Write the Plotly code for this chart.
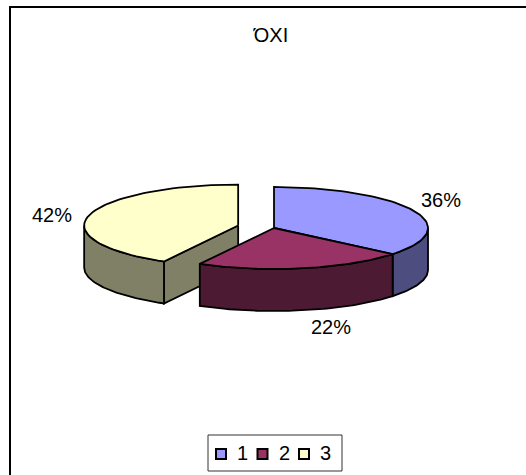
import math
import plotly.graph_objects as go

# ---- data ----
categories = ["1", "2", "3"]
values = [36, 22, 42]
labels_txt = ["36%", "22%", "42%"]
title_text = "ΌΧΙ"

# ---- style ----
top_colors = ["#9999FF", "#993366", "#FFFFCC"]
side_colors = ["#4D4D80", "#4D1A33", "#808066"]
explode = [0, 0, 37]

W, H = 526, 475
CX, CY = 274, 228     # pie centre (pixels)
RX, RY = 154, 41      # ellipse radii of top face
T = 42                # thickness
FONT = "Arial, Liberation Sans, sans-serif"
FS = 20

# legend layout
LEG_BOX = (208, 435, 342, 471)
LEG_X0, LEG_PITCH, LEG_Y = 221, 41.5, 454


def pt(cx, cy, a, dy=0):
    r = math.radians(a)
    return cx + RX * math.sin(r), cy - RY * math.cos(r) + dy


def arc(cx, cy, a0, a1, dy=0, n=60):
    pts = []
    for i in range(n + 1):
        a = a0 + (a1 - a0) * i / n
        pts.append(pt(cx, cy, a, dy))
    return pts


def poly_trace(pts, color):
    xs = [p[0] for p in pts] + [pts[0][0]]
    ys = [p[1] for p in pts] + [pts[0][1]]
    return go.Scatter(x=xs, y=ys, mode="lines", fill="toself", fillcolor=color,
                      line=dict(color="black", width=1.8), hoverinfo="skip",
                      showlegend=False)


total = sum(values)
angles = []
a = 0.0
for v in values:
    a1 = a + 360.0 * v / total
    angles.append((a, a1))
    a = a1

fig = go.Figure()

order = [2, 0, 1]   # back-left, back-right, front
centres = {}
for i in range(len(values)):
    a0, a1 = angles[i]
    m = math.radians((a0 + a1) / 2)
    d = explode[i]
    centres[i] = (CX + d * math.sin(m), CY - d * math.cos(m) * RY / RX)

for i in order:
    a0, a1 = angles[i]
    cx, cy = centres[i]
    if 180 < a0 < 360 and explode[i] > 0:
        p = pt(cx, cy, a0)
        quad = [(cx, cy), p, (p[0], p[1] + T), (cx, cy + T)]
        fig.add_trace(poly_trace(quad, side_colors[i]))
    s0, s1 = max(a0, 90), min(a1, 270)
    if s1 > s0:
        top = arc(cx, cy, s0, s1)
        bot = arc(cx, cy, s0, s1, dy=T)[::-1]
        fig.add_trace(poly_trace(top + bot, side_colors[i]))
    face = [(cx, cy)] + arc(cx, cy, a0, a1)
    fig.add_trace(poly_trace(face, top_colors[i]))

# data labels, anchored by the corner nearest to the slice
for i in range(len(values)):
    a0, a1 = angles[i]
    cx, cy = centres[i]
    mid = (a0 + a1) / 2
    r = math.radians(mid)
    s, c = math.sin(r), math.cos(r)
    px, py = pt(cx, cy, mid)
    if c < 0:
        py += T
    ya = "bottom" if c > 0.3 else ("top" if c < -0.3 else "middle")
    gap = 6 if ya != "middle" else 15
    if s > 0.1:
        xa = "left"
        px += gap
    elif s < -0.1:
        xa = "right"
        px -= gap
    else:
        xa = "center"
    if ya == "bottom":
        py += 2.5
    elif ya == "top":
        py += 4
    fig.add_annotation(x=px, y=py, text=labels_txt[i], showarrow=False,
                       xanchor=xa, yanchor=ya,
                       font=dict(family=FONT, size=FS, color="black"))

# legend (box, keys, texts)
fig.add_shape(type="rect", x0=LEG_BOX[0], y0=LEG_BOX[1], x1=LEG_BOX[2], y1=LEG_BOX[3],
              line=dict(color="#333333", width=1), fillcolor="white", layer="below")
leg_x = [LEG_X0 + k * LEG_PITCH for k in range(len(categories))]
fig.add_trace(go.Scatter(
    x=leg_x, y=[LEG_Y] * len(categories), mode="markers",
    marker=dict(symbol="square", size=10, color=top_colors,
                line=dict(color="black", width=2)),
    hoverinfo="skip", showlegend=False))
for k, c in enumerate(categories):
    fig.add_annotation(x=leg_x[k] + 14, y=LEG_Y - 1, text=c, showarrow=False,
                       xanchor="left", yanchor="middle",
                       font=dict(family=FONT, size=FS, color="black"))

# chart border (top and left edges visible in frame)
fig.add_shape(type="line", x0=10, y0=7, x1=W + 5, y1=7,
              line=dict(color="black", width=2))
fig.add_shape(type="line", x0=10, y0=6, x1=10, y1=H + 5,
              line=dict(color="black", width=2))

fig.update_layout(
    width=W, height=H,
    margin=dict(l=0, r=0, t=0, b=0),
    paper_bgcolor="white", plot_bgcolor="white",
    xaxis=dict(range=[0, W], visible=False, fixedrange=True),
    yaxis=dict(range=[H, 0], visible=False, fixedrange=True),
    title=dict(text=title_text, x=271 / W, xanchor="center",
               y=1 - 35 / H, yanchor="middle",
               font=dict(family=FONT, size=FS, color="black")),
    showlegend=False,
)

fig.write_html("out.html", config={"displayModeBar": False})
